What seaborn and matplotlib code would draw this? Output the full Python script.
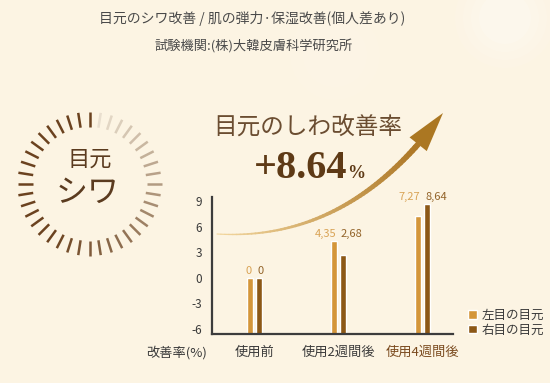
import numpy as np
import pandas as pd
import matplotlib.pyplot as plt
import seaborn as sns
from matplotlib.patches import Polygon, Circle
from matplotlib.collections import LineCollection

# ---- data ----
stages = ['使用前', '使用2週間後', '使用4週間後']
series = ['左目の目元', '右目の目元']
left_eye = [0, 4.35, 7.27]
right_eye = [0, 2.68, 8.64]
yticks = [-6, -3, 0, 3, 6, 9]

# colours
bg = '#FCF4E3'
gold = '#D4963A'
brown = '#8C5816'
label_gold = '#D9A355'
label_brown = '#93642A'
text_dark = '#3a3a3a'

sns.set_theme(style='white')
plt.rcParams['font.family'] = ['Noto Sans CJK JP', 'DejaVu Sans']
plt.rcParams['axes.unicode_minus'] = False

df = pd.DataFrame({
    'stage': stages * 2,
    'series': [series[0]] * len(stages) + [series[1]] * len(stages),
    'value': left_eye + right_eye,
})
# bars rise from the floor of the axis, not from zero
base = -6.6
df['height'] = df['value'] - base

fig = plt.figure(figsize=(5.5, 3.83), dpi=100, facecolor=bg)

# ---- decoration layer in pixel coordinates ----
deco = fig.add_axes([0, 0, 1, 1])
deco.set_xlim(0, 550)
deco.set_ylim(383, 0)
deco.axis('off')

# soft light spots
for r, a in [(50, 0.08), (42, 0.10), (34, 0.12), (26, 0.14)]:
    deco.add_patch(Circle((505, 18), r, color='white', alpha=a, lw=0))
for r, a in [(45, 0.04), (32, 0.06)]:
    deco.add_patch(Circle((335, 55), r, color='white', alpha=a, lw=0))

# ring of ticks
cx, cy, r_in, r_out = 89.5, 184, 57, 72
n = 40
dark = np.array([0.42, 0.26, 0.12])
light = np.array([0.95, 0.92, 0.86])
for i in range(n):
    ang = 2 * np.pi * i / n
    f = 1.0 if i == 0 else min((i / n) / 0.6, 1.0) ** 0.85
    c = light + (dark - light) * f
    xs = [cx + r_in * np.sin(ang), cx + r_out * np.sin(ang)]
    ys = [cy - r_in * np.cos(ang), cy - r_out * np.cos(ang)]
    deco.plot(xs, ys, color=c, lw=1.8, solid_capstyle='butt')

deco.text(90, 159, '目元', ha='center', va='center', fontsize=16, color='#5b3b1f')
deco.text(88, 193, 'シワ', ha='center', va='center', fontsize=23, color='#5b3b1f')

# headings
deco.text(252, 18, '目元のシワ改善 / 肌の弾力·保湿改善(個人差あり)', ha='center',
          va='center', fontsize=10, color='#4a4a4a')
deco.text(254, 47, '試験機関:(株)大韓皮膚科学研究所', ha='center', va='center',
          fontsize=9.5, color='#4a4a4a')
deco.text(308, 127, '目元のしわ改善率', ha='center', va='center', fontsize=17,
          color='#6b4d31')
deco.text(347, 178, '+8.64', ha='right', va='baseline', fontsize=29,
          family='Liberation Serif', weight='bold', color='#5e3a16')
deco.text(347, 178, '%', ha='left', va='baseline', fontsize=13,
          family='Liberation Serif', weight='bold', color='#5e3a16')

# curved arrow
p0, p1, p2 = np.array([217, 234]), np.array([350, 242]), np.array([443, 113])
t = np.linspace(0, 0.87, 60)
pts = ((1 - t) ** 2)[:, None] * p0 + (2 * (1 - t) * t)[:, None] * p1 + (t ** 2)[:, None] * p2
segs = np.stack([pts[:-1], pts[1:]], axis=1)
k = np.linspace(0, 1, len(segs))
c0, c1 = np.array([0.95, 0.84, 0.62]), np.array([0.68, 0.47, 0.15])
deco.add_collection(LineCollection(segs, linewidths=0.8 + 3.4 * k,
                                   colors=c0 + (c1 - c0) * k[:, None],
                                   capstyle='round'))
d = p2 - pts[-1]
d = d / np.linalg.norm(d)
nrm = np.array([-d[1], d[0]])
hb = pts[-1]
deco.add_patch(Polygon([p2, hb + nrm * 11, hb - nrm * 11], closed=True,
                       color='#AB7722', lw=0))

deco.text(177, 353, '改善率(%)', ha='center', va='center', fontsize=9.5, color=text_dark)

# ---- bar chart ----
ax = fig.add_axes([212 / 550, 1 - 334 / 383, 241 / 550, 137 / 383])
ax.patch.set_alpha(0)
sns.barplot(data=df, x='stage', y='height', hue='series', palette=[gold, brown],
            width=0.2, gap=0.3, saturation=1, bottom=base, legend=False, ax=ax)

ax.set_ylim(base, 9.5)
ax.set_xlim(-0.506, 2.363)
ax.set_yticks(yticks)
ax.set_yticklabels([str(v) for v in yticks])
ax.set_xlabel('')
ax.set_ylabel('')
sns.despine(ax=ax)
for s in ['left', 'bottom']:
    ax.spines[s].set_color('#3c3c3c')
    ax.spines[s].set_linewidth(1.6)
ax.tick_params(axis='x', length=0, pad=8.5, labelsize=9.5, colors=text_dark)
ax.tick_params(axis='y', length=0, pad=7, labelsize=8.5, colors=text_dark)
ax.get_xticklabels()[2].set_color('#7a4a1e')

# value labels
for i in range(len(stages)):
    top = max(left_eye[i], right_eye[i]) + 0.85
    ax.text(i - 0.03, top, f'{left_eye[i]:g}'.replace('.', ','), ha='right',
            va='center', fontsize=8, color=label_gold)
    ax.text(i + 0.03, top, f'{right_eye[i]:g}'.replace('.', ','), ha='left',
            va='center', fontsize=8, color=label_brown)

leg = ax.legend(ax.containers, series, loc='center left',
                bbox_to_anchor=(468 / 550, 1 - 322.5 / 383),
                bbox_transform=fig.transFigure, frameon=False, handlelength=0.7,
                handleheight=0.7, handletextpad=0.4, labelspacing=0.15, fontsize=9,
                borderpad=0, borderaxespad=0)
for txt in leg.get_texts():
    txt.set_color(text_dark)

plt.savefig('out.png', dpi=100, facecolor=bg)
plt.close()
